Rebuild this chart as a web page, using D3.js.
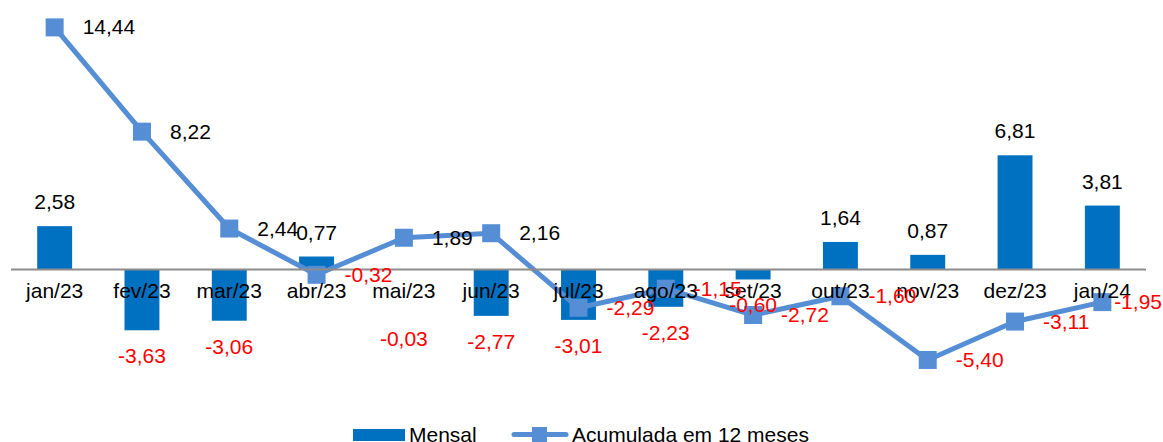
<!DOCTYPE html>
<html lang="pt">
<head>
<meta charset="utf-8">
<title>Mensal e acumulada em 12 meses</title>
<script src="https://cdn.jsdelivr.net/npm/d3@7"></script>
<style>
  body { margin: 0; background: #fff; }
  svg text { font-family: "Liberation Sans", Arial, sans-serif; font-size: 21px; }
  .axis path { stroke: #8c8c8c; stroke-width: 2; }
  .axis line { display: none; }
</style>
</head>
<body>
<script>
var w = 1163, h = 442;

// categorias e séries
var categorias = ["jan/23", "fev/23", "mar/23", "abr/23", "mai/23", "jun/23", "jul/23",
                  "ago/23", "set/23", "out/23", "nov/23", "dez/23", "jan/24"];
var mensal = [2.58, -3.63, -3.06, 0.77, -0.03, -2.77, -3.01, -2.23, -0.60, 1.64, 0.87, 6.81, 3.81];
var acumulada = [14.44, 8.22, 2.44, -0.32, 1.89, 2.16, -2.29, -1.15, -2.72, -1.60, -5.40, -3.11, -1.95];
var series = ["Mensal", "Acumulada em 12 meses"];

var corBarra = "#0070C0", corLinha = "#558ED5";
var ptBR = d3.formatLocale({ decimal: ",", thousands: ".", grouping: [3], currency: ["R$", ""], minus: "-" });
var fmt = ptBR.format(".2f");

var x = d3.scaleBand().domain(categorias).range([11, 1146]).paddingInner(0.6).paddingOuter(0.3);
var y = d3.scaleLinear().domain([-6, 15]).range([370, 18]);
var cx = function(c) { return x(c) + x.bandwidth() / 2; };

var svg = d3.select("body").append("svg").attr("width", w).attr("height", h);

// barras
svg.selectAll("rect.bar")
   .data(mensal)
   .enter().append("rect")
   .attr("class", "bar")
   .attr("x", function(d, i) { return x(categorias[i]); })
   .attr("y", function(d) { return y(Math.max(0, d)); })
   .attr("width", x.bandwidth())
   .attr("height", function(d) { return Math.abs(y(d) - y(0)); })
   .attr("fill", corBarra);

// eixo
var xAxis = d3.axisBottom(x).tickSize(0).tickPadding(14);
var gx = svg.append("g").attr("class", "axis")
   .attr("transform", "translate(0," + y(0) + ")")
   .call(xAxis);
gx.select(".domain").attr("d", "M11,0H1146");
gx.selectAll("text").attr("fill", "#000").style("font-size", "21px");

// linha acumulada
var line = d3.line()
   .x(function(d, i) { return cx(categorias[i]); })
   .y(function(d) { return y(d); });

svg.append("path")
   .datum(acumulada)
   .attr("d", line)
   .attr("fill", "none")
   .attr("stroke", corLinha)
   .attr("stroke-width", 5)
   .attr("stroke-linejoin", "round");

svg.selectAll("rect.marker")
   .data(acumulada)
   .enter().append("rect")
   .attr("class", "marker")
   .attr("x", function(d, i) { return cx(categorias[i]) - 9; })
   .attr("y", function(d) { return y(d) - 9; })
   .attr("width", 18).attr("height", 18)
   .attr("fill", corLinha);

// rótulos do eixo por cima da linha
gx.raise();

// rótulos das barras (barras quase nulas: rótulo abaixo dos nomes do eixo)
svg.selectAll("text.lblBar")
   .data(mensal)
   .enter().append("text")
   .attr("class", "lblBar")
   .attr("x", function(d, i) { return cx(categorias[i]); })
   .attr("y", function(d) {
      if (d >= 0) return y(d) - 17;
      return Math.abs(d) < 0.1 ? y(0) + 77 : y(d) + 33;
   })
   .attr("text-anchor", "middle")
   .attr("fill", function(d) { return d < 0 ? "#ff0000" : "#000"; })
   .text(fmt);

// rótulos da linha (o último é empurrado para caber na área)
svg.selectAll("text.lblLine")
   .data(acumulada)
   .enter().append("text")
   .attr("class", "lblLine")
   .attr("y", function(d) { return y(d) + 7; })
   .attr("fill", function(d) { return d < 0 ? "#ff0000" : "#000"; })
   .text(fmt)
   .attr("x", function(d, i) {
      var tw = this.getComputedTextLength();
      return Math.min(cx(categorias[i]) + 28, w - tw - 1);
   });

// legenda
var leg = svg.append("g");
leg.append("rect").attr("x", 353).attr("y", 429).attr("width", 52).attr("height", 12).attr("fill", corBarra);
leg.append("text").attr("x", 409).attr("y", 442).text(series[0]);
leg.append("line").attr("x1", 514).attr("x2", 566).attr("y1", 434.5).attr("y2", 434.5)
   .attr("stroke", corLinha).attr("stroke-width", 5).attr("stroke-linecap", "round");
leg.append("rect").attr("x", 532).attr("y", 427).attr("width", 15).attr("height", 15).attr("fill", corLinha);
leg.append("text").attr("x", 572).attr("y", 442).text(series[1]);
</script>
</body>
</html>
